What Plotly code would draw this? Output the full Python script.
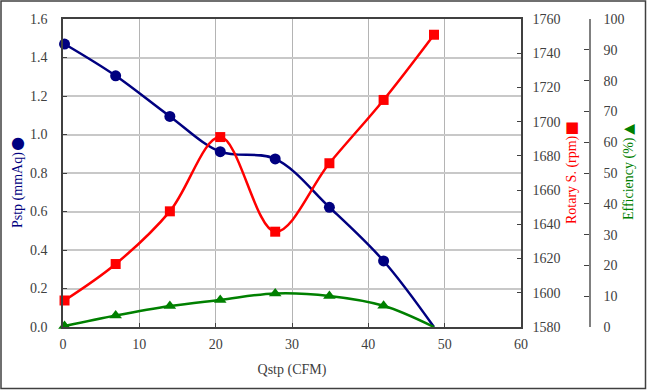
import plotly.graph_objects as go

# ---- data ----
qstp = [0.2, 6.9, 14.0, 20.6, 27.8, 34.9, 42.0, 48.6]
pstp = [1.470, 1.305, 1.094, 0.911, 0.873, 0.622, 0.343, 0.0]
rpm = [1595.5, 1616.8, 1647.6, 1691.0, 1635.7, 1675.7, 1712.7, 1750.8]
eff = [0.3, 3.7, 6.8, 8.8, 10.9, 10.1, 6.9, 0.0]

x_ticks = [0, 10, 20, 30, 40, 50, 60]

W, H = 647, 390
ML, MR, MT, MB = 63, 40, 19, 63
PW = W - ML - MR
PH = H - MT - MB
XR = 521  # right edge of plotting area


def px(x):
    return (x - ML) / PW


def py(y):
    return (H - MB - y) / PH


FONT = "Liberation Serif"
AX = "#404040"
NAVY = "#000080"
RED = "#FF0000"
GREEN = "#008000"

fig = go.Figure()
fig.add_trace(go.Scatter(
    x=qstp, y=pstp, mode="lines+markers", yaxis="y",
    line=dict(color=NAVY, width=2.5, shape="spline"),
    marker=dict(symbol="circle", size=[11] * (len(qstp) - 1) + [0], color=NAVY,
                opacity=1, line=dict(width=0)),
    showlegend=False, cliponaxis=False))
fig.add_trace(go.Scatter(
    x=qstp, y=rpm, mode="lines+markers", yaxis="y2",
    line=dict(color=RED, width=2.5, shape="spline"),
    marker=dict(symbol="square", size=10, color=RED, opacity=1, line=dict(width=0)),
    showlegend=False, cliponaxis=False))
fig.add_trace(go.Scatter(
    x=qstp, y=eff, mode="lines+markers", yaxis="y3",
    line=dict(color=GREEN, width=2.5, shape="spline"),
    marker=dict(symbol="triangle-up", size=[11] * (len(qstp) - 1) + [0], color=GREEN,
                opacity=1, line=dict(width=0)),
    showlegend=False, cliponaxis=False))

tickfont = dict(family=FONT, size=14, color=AX)

fig.update_layout(
    width=W, height=H,
    margin=dict(l=ML, r=MR, t=MT, b=MB),
    paper_bgcolor="white", plot_bgcolor="white",
    font=dict(family=FONT, color=AX),
    xaxis=dict(
        domain=[0, (XR - ML) / PW], range=[0, 60], tickvals=x_ticks,
        showgrid=True, gridcolor="#b4b4b4", gridwidth=1,
        showline=True, linecolor=AX, linewidth=1.5, mirror=True,
        ticks="inside", ticklen=4, tickcolor=AX, tickfont=tickfont,
        ticklabelstandoff=3, zeroline=False,
        title=dict(text="Qstp (CFM)", font=dict(family=FONT, size=14, color=AX), standoff=14),
    ),
    yaxis=dict(
        range=[0, 1.6], dtick=0.2, tickformat=".1f",
        showgrid=True, gridcolor="#c8c8c8", gridwidth=1.5,
        showline=True, linecolor=AX, linewidth=1.5,
        ticks="inside", ticklen=4, tickcolor=AX, tickfont=tickfont,
        ticklabelstandoff=11, zeroline=False,
    ),
    yaxis2=dict(
        range=[1580, 1760], dtick=20, overlaying="y", side="right", anchor="x",
        showgrid=False, showline=True, linecolor=AX, linewidth=1.5,
        ticks="inside", ticklen=4, tickcolor=AX, tickfont=tickfont,
        ticklabelstandoff=7, zeroline=False,
    ),
    yaxis3=dict(
        range=[0, 100], dtick=10, overlaying="y", side="right", anchor="free",
        position=px(590), showgrid=False, showline=True, linecolor="#808080", linewidth=1.5,
        ticks="inside", ticklen=5, tickcolor=AX, tickfont=tickfont,
        ticklabelstandoff=10, zeroline=False,
    ),
)

ann = [
    dict(x=px(18), y=py(190), text="Pstp (mmAq)", color=NAVY, size=14, angle=-90, f=FONT),
    dict(x=px(18), y=py(142), text="●", color=NAVY, size=16, angle=0, f="DejaVu Sans"),
    dict(x=px(572), y=py(180), text="Rotary S. (rpm)", color=RED, size=14, angle=-90, f=FONT),
    dict(x=px(572), y=py(127), text="■", color=RED, size=15, angle=0, f="DejaVu Sans"),
    dict(x=px(629), y=py(179), text="Efficiency (%)", color=GREEN, size=14, angle=-90, f=FONT),
    dict(x=px(629), y=py(128), text="◀", color=GREEN, size=14, angle=0, f="DejaVu Sans"),
]
for a in ann:
    fig.add_annotation(
        x=a["x"], y=a["y"], xref="paper", yref="paper", text=a["text"],
        showarrow=False, textangle=a["angle"], xanchor="center", yanchor="middle",
        font=dict(family=a["f"], size=a["size"], color=a["color"]))

# outer frame
fig.add_shape(type="rect", xref="paper", yref="paper",
              x0=px(1), x1=px(645.5), y0=py(388.5), y1=py(1),
              line=dict(color=AX, width=1.5), layer="below")

fig.write_html("out.html", config={"displayModeBar": False},
               post_script="document.body.style.margin='0px';")
